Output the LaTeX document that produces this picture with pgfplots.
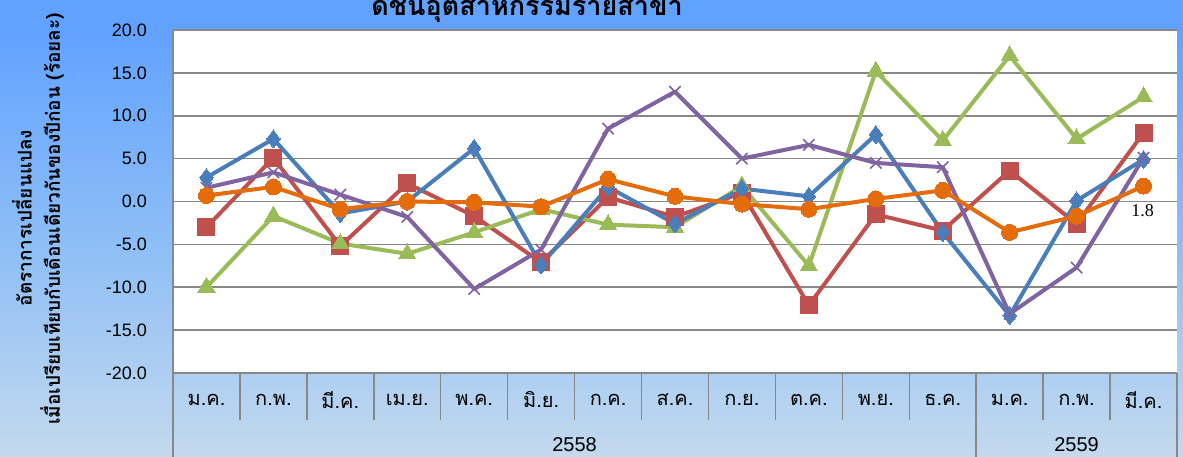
\documentclass[border=0pt]{standalone}
\usepackage{fontspec}
\setmainfont{Liberation Sans}
\newfontfamily\thai[Script=Thai]{Loma}
\newfontfamily\serifnum{Liberation Serif}
\usepackage{pgfplots}
\pgfplotsset{compat=1.18}
\definecolor{sblue}{HTML}{4A7EBB}
\definecolor{sred}{HTML}{C0504D}
\definecolor{sgreen}{HTML}{9BBB59}
\definecolor{spurple}{HTML}{8064A2}
\definecolor{sorange}{HTML}{E46C0A}
\definecolor{gridc}{HTML}{888888}
\definecolor{bgtop}{HTML}{62A2FF}
\definecolor{bgmid}{HTML}{8DBEF6}
\definecolor{bgbot}{HTML}{C3D9EE}
\begin{document}
\begin{tikzpicture}[line join=round]
\path[use as bounding box] (0,0) rectangle (1183pt,456pt);
\fill[bgtop] (0,426pt) rectangle (1183pt,456pt);
\shade[top color=bgtop, bottom color=bgbot, middle color=bgmid] (0,0) rectangle (1183pt,426pt);
\begin{axis}[
  at={(173pt,83pt)}, anchor=south west,
  width=1004pt, height=343pt, scale only axis,
  xmin=0.5, xmax=15.5, ymin=-20, ymax=20,
  ytick={-20,-15,...,20},
  xtick={1,...,15},
  xticklabels={ม.ค.,ก.พ.,มี.ค.,เม.ย.,พ.ค.,มิ.ย.,ก.ค.,ส.ค.,ก.ย.,ต.ค.,พ.ย.,ธ.ค.,ม.ค.,ก.พ.,มี.ค.},
  major tick length=0pt,
  axis background/.style={fill=white},
  axis line style={draw=none},
  ymajorgrids, grid style={draw=gridc, line width=1.6pt},
  /pgf/number format/fixed,
  /pgf/number format/fixed zerofill,
  /pgf/number format/precision=1,
  /pgf/number format/assume math mode=true,
  yticklabel style={font=\fontsize{18}{18}\selectfont, anchor=east, inner sep=0pt, xshift=-26pt},
  xticklabel style={font=\thai\fontsize{20}{20}\selectfont, anchor=center, inner sep=0pt, yshift=-27pt},
  clip=false,
]
\draw[gridc, line width=2pt] (axis cs:0.5,-20) -- (axis cs:0.5,20);
\pgfplotsinvokeforeach{1.5,2.5,3.5,4.5,5.5,6.5,7.5,8.5,9.5,10.5,11.5,13.5,14.5}{
  \draw[gridc, line width=1.5pt] (axis cs:#1,-20) -- (axis cs:#1,-25.5);
}
\pgfplotsinvokeforeach{0.5,12.5,15.5}{
  \draw[gridc, line width=1.5pt] (axis cs:#1,-20) -- (axis cs:#1,-32);
}
\draw[gridc, line width=2.2pt] (axis cs:0.5,-20) -- (axis cs:15.5,-20);
\node[font=\fontsize{20}{20}\selectfont, inner sep=1pt] at (axis cs:6.5,-28.4) {2558};
\node[font=\fontsize{20}{20}\selectfont, inner sep=1pt] at (axis cs:14,-28.4) {2559};

% red
\addplot[color=sred, line width=4pt, mark=square*, mark size=8.5pt, mark options={line width=0pt, fill=sred}]
coordinates {(1,-3.0)(2,5.1)(3,-5.2)(4,2.1)(5,-1.7)(6,-7.1)(7,0.5)(8,-1.8)(9,1.0)(10,-12.1)(11,-1.5)(12,-3.4)(13,3.6)(14,-2.6)(15,8.0)};
% green
\addplot[color=sgreen, line width=4pt, mark=triangle*, mark size=10pt, mark options={line width=0pt, fill=sgreen}]
coordinates {(1,-10.0)(2,-1.7)(3,-4.9)(4,-6.1)(5,-3.6)(6,-0.9)(7,-2.7)(8,-3.0)(9,1.8)(10,-7.5)(11,15.2)(12,7.1)(13,17.0)(14,7.3)(15,12.2)};
% blue
\addplot[color=sblue, line width=4pt, mark=diamond*, mark size=9pt, mark options={line width=0pt, fill=sblue}]
coordinates {(1,2.8)(2,7.3)(3,-1.4)(4,0.0)(5,6.2)(6,-7.4)(7,1.7)(8,-2.6)(9,1.5)(10,0.6)(11,7.8)(12,-3.6)(13,-13.3)(14,0.1)(15,4.9)};
% purple
\addplot[color=spurple, line width=4pt, mark=x, mark size=8pt, mark options={line width=1.6pt}]
coordinates {(1,1.6)(2,3.4)(3,0.8)(4,-1.8)(5,-10.2)(6,-5.6)(7,8.5)(8,12.8)(9,5.0)(10,6.6)(11,4.5)(12,4.0)(13,-13.1)(14,-7.7)(15,5.1)};
% orange
\addplot[color=sorange, line width=4pt, mark=*, mark size=8pt, mark options={line width=0pt, fill=sorange}]
coordinates {(1,0.7)(2,1.7)(3,-0.9)(4,0.0)(5,-0.1)(6,-0.6)(7,2.6)(8,0.6)(9,-0.3)(10,-0.9)(11,0.3)(12,1.3)(13,-3.6)(14,-1.7)(15,1.8)};
\addplot[draw=none, mark=none, nodes near coords,
  every node near coord/.style={font=\serifnum\fontsize{18}{18}\selectfont, anchor=center, yshift=-25pt, xshift=-1pt, text=black}]
coordinates {(15,1.8)};
\end{axis}
\node[font=\thai\bfseries\fontsize{27}{27}\selectfont, anchor=base] at (527pt,440pt) {ดัชนีอุตสาหกรรมรายสาขา};
\node[rotate=90, font=\thai\bfseries\fontsize{19}{19}\selectfont] at (22pt,238pt) {อัตราการเปลี่ยนแปลง};
\node[rotate=90, font=\thai\bfseries\fontsize{19}{19}\selectfont] at (52pt,237pt) {เมื่อเปรียบเทียบกับเดือนเดียวกันของปีก่อน (ร้อยละ)};
\end{tikzpicture}
\end{document}
